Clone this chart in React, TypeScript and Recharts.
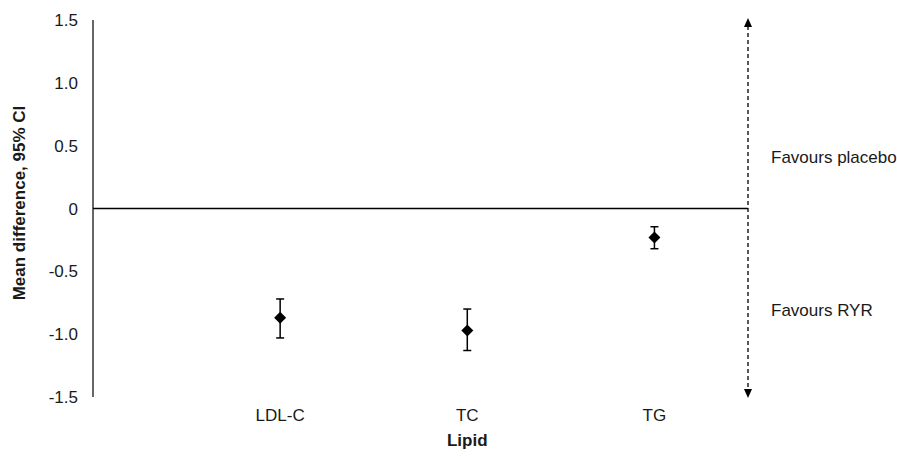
import { ScatterChart, Scatter, XAxis, YAxis, ErrorBar, ReferenceLine, Label } from "recharts";

const lipids = ["LDL-C", "TC", "TG"];
const meanDiff = [-0.87, -0.97, -0.23];
const ciLower = [-1.03, -1.13, -0.32];
const ciUpper = [-0.72, -0.8, -0.145];
const yTicks = [-1.5, -1.0, -0.5, 0, 0.5, 1.0, 1.5];

const data = lipids.map((name, i) => ({
  name,
  pos: i + 1,
  mean: meanDiff[i],
  err: [meanDiff[i] - ciLower[i], ciUpper[i] - meanDiff[i]],
}));

const FONT = "'Liberation Sans', Arial, sans-serif";
const INK = "#1a1a1a";
const FS = 17;

const Diamond = (props: any) => {
  const { cx, cy } = props;
  const r = 6;
  return (
    <polygon
      points={`${cx},${cy - r} ${cx + r},${cy} ${cx},${cy + r} ${cx - r},${cy}`}
      fill="#000"
    />
  );
};

const ArrowLine = (props: any) => {
  const { x1, y1, x2, y2 } = props;
  const top = Math.min(y1, y2);
  const bottom = Math.max(y1, y2);
  return (
    <g>
      <line x1={x1} y1={top + 6} x2={x2} y2={bottom - 6} stroke="#000" strokeWidth={1.3} strokeDasharray="4 3" />
      <polygon points={`${x1},${top - 2} ${x1 + 4},${top + 7} ${x1 - 4},${top + 7}`} fill="#000" />
      <polygon points={`${x1},${bottom + 1} ${x1 + 4},${bottom - 8} ${x1 - 4},${bottom - 8}`} fill="#000" />
    </g>
  );
};

export default function App() {
  return (
    <div style={{ position: "absolute", left: 0, top: 0, width: 897, height: 456, background: "#fff" }}>
      <ScatterChart width={897} height={456} margin={{ top: 20, right: 149, bottom: 0, left: 0 }}>
        <XAxis
          type="number"
          dataKey="pos"
          domain={[0, 3.5]}
          ticks={[1, 2, 3]}
          tickFormatter={(v: number) => lipids[v - 1]}
          axisLine={false}
          tickLine={false}
          tickMargin={6}
          height={59}
          tick={{ fill: INK, fontSize: FS, fontFamily: FONT }}
          label={{
            content: (p: any) => {
              const vb = p.viewBox;
              return (
                <text x={vb.x + (vb.width * 2) / 3.5} y={446} textAnchor="middle" fill={INK} fontSize={FS} fontWeight="bold" fontFamily={FONT}>
                  Lipid
                </text>
              );
            },
          }}
        />
        <YAxis
          type="number"
          dataKey="mean"
          domain={[-1.5, 1.5]}
          ticks={yTicks}
          tickFormatter={(v: number) => (v === 0 ? "0" : v.toFixed(1))}
          width={93}
          axisLine={{ stroke: "#000", strokeWidth: 1.2 }}
          tickLine={false}
          tickMargin={9}
          tick={{ fill: INK, fontSize: FS, fontFamily: FONT }}
          label={{
            content: () => (
              <text
                x={25}
                y={203}
                transform="rotate(-90, 25, 203)"
                textAnchor="middle"
                fill={INK}
                fontSize={FS}
                fontWeight="bold"
                fontFamily={FONT}
              >
                Mean difference, 95% CI
              </text>
            ),
          }}
        />
        <ReferenceLine y={0} stroke="#000" strokeWidth={1.3} />
        <ReferenceLine x={3.5} shape={ArrowLine} ifOverflow="visible">
          <Label
            content={() => (
              <g fontFamily={FONT} fontSize={FS} fill={INK}>
                <text x={771} y={163}>Favours placebo</text>
                <text x={771} y={316}>Favours RYR</text>
              </g>
            )}
          />
        </ReferenceLine>
        <Scatter data={data} shape={Diamond} isAnimationActive={false}>
          <ErrorBar dataKey="err" direction="y" width={4} stroke="#000" strokeWidth={1.5} />
        </Scatter>
      </ScatterChart>
    </div>
  );
}
